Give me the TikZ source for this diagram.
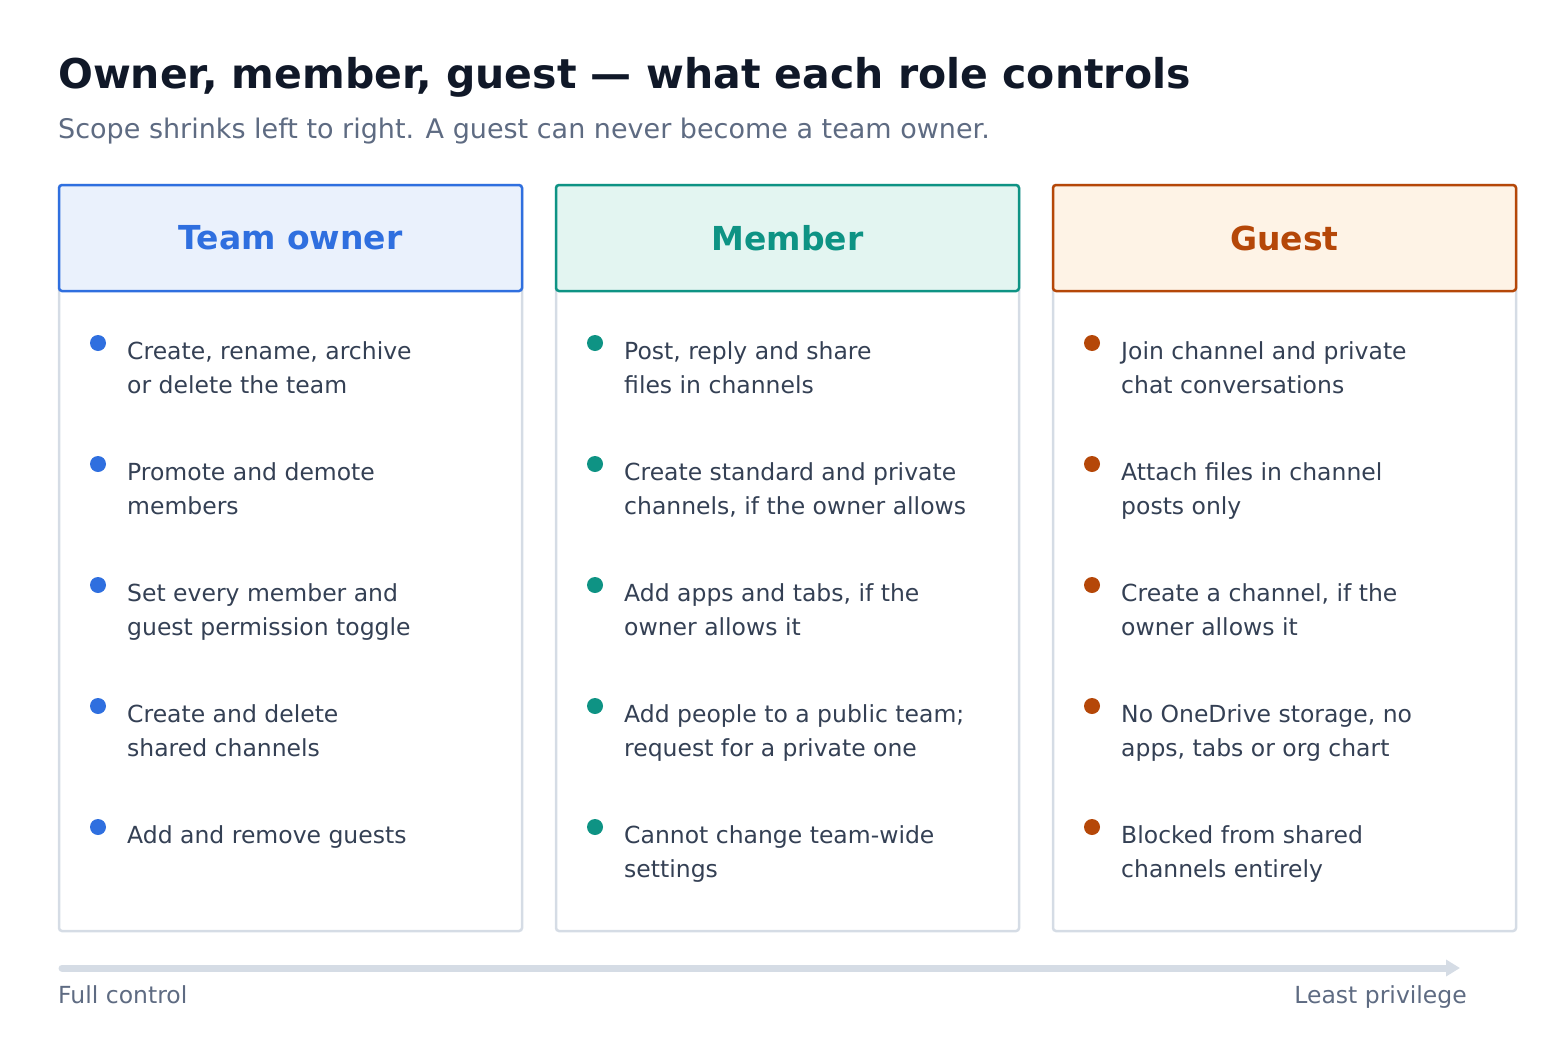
\documentclass[tikz,border=0pt]{standalone}
\usepackage{fontspec}
\setmainfont{DejaVu Sans}
\usetikzlibrary{arrows.meta}
\definecolor{tblue}{HTML}{2F6FDF}\definecolor{fblue}{HTML}{EAF1FC}
\definecolor{tteal}{HTML}{0E9384}\definecolor{fteal}{HTML}{E3F5F1}
\definecolor{torange}{HTML}{B54708}\definecolor{forange}{HTML}{FEF3E6}
\definecolor{txt}{HTML}{344054}\definecolor{ttl}{HTML}{101828}
\definecolor{sub}{HTML}{5E6B82}\definecolor{grey}{HTML}{D5DCE5}
\begin{document}
\begin{tikzpicture}[x=1pt,y=-1pt,
  body/.style={draw=grey,line width=2.5pt,rounded corners=3pt},
  head/.style={line width=2.5pt,rounded corners=3pt},
  htxt/.style={font=\fontsize{33}{40}\selectfont\bfseries},
  item/.style={anchor=north west,align=left,text=txt,inner sep=0pt,font=\fontsize{23.5}{34}\selectfont},
  lbl/.style={text=sub,inner sep=0pt,font=\fontsize{23.5}{28}\selectfont}]
\useasboundingbox (0,0) rectangle (1560,1044);
\node[anchor=base west,inner sep=0pt,text=ttl,font=\fontsize{41}{48}\selectfont\bfseries] (title) at (58,88) {Owner, member, guest — what each role controls};
\node[anchor=base west,inner sep=0pt,text=sub,font=\fontsize{27}{32}\selectfont] (subtitle) at (58,138) {Scope shrinks left to right. A guest can never become a team owner.};
\foreach \x/\c/\f/\n/\t in {59/tblue/fblue/o/Team owner,556/tteal/fteal/m/Member,1053/torange/forange/g/Guest}{
  \draw[body] (\x,185) rectangle (\x+463,931);
  \draw[head,draw=\c,fill=\f] (\x,185) rectangle (\x+463,291);
  \node[htxt,text=\c] (h\n) at (\x+231.5,238) {\t};
}
\newcommand\items[3]{%
  \foreach \t [count=\i from 0] in {#3}{
    \fill[#2] (#1+39,343+121*\i) circle (8);
    \node[item] at (#1+68,341+121*\i) {\t};
  }}
\items{59}{tblue}{{Create, rename, archive\\or delete the team},{Promote and demote\\members},{Set every member and\\guest permission toggle},{Create and delete\\shared channels},{Add and remove guests}}
\items{556}{tteal}{{Post, reply and share\\files in channels},{Create standard and private\\channels, if the owner allows},{Add apps and tabs, if the\\owner allows it},{Add people to a public team;\\request for a private one},{Cannot change team-wide\\settings}}
\items{1053}{torange}{{Join channel and private\\chat conversations},{Attach files in channel\\posts only},{Create a channel, if the\\owner allows it},{No OneDrive storage, no\\apps, tabs or org chart},{Blocked from shared\\channels entirely}}
\coordinate (a1) at (62,968);
\coordinate (a2) at (1460,968);
\draw[grey,line width=7pt,line cap=round,-{Triangle[length=14pt,width=16pt]}] (a1) -- (a2);
\node[lbl,anchor=base west] (l1) at (58,1003) {Full control};
\node[lbl,anchor=base east] (l2) at (1467,1003) {Least privilege};
\end{tikzpicture}
\end{document}
